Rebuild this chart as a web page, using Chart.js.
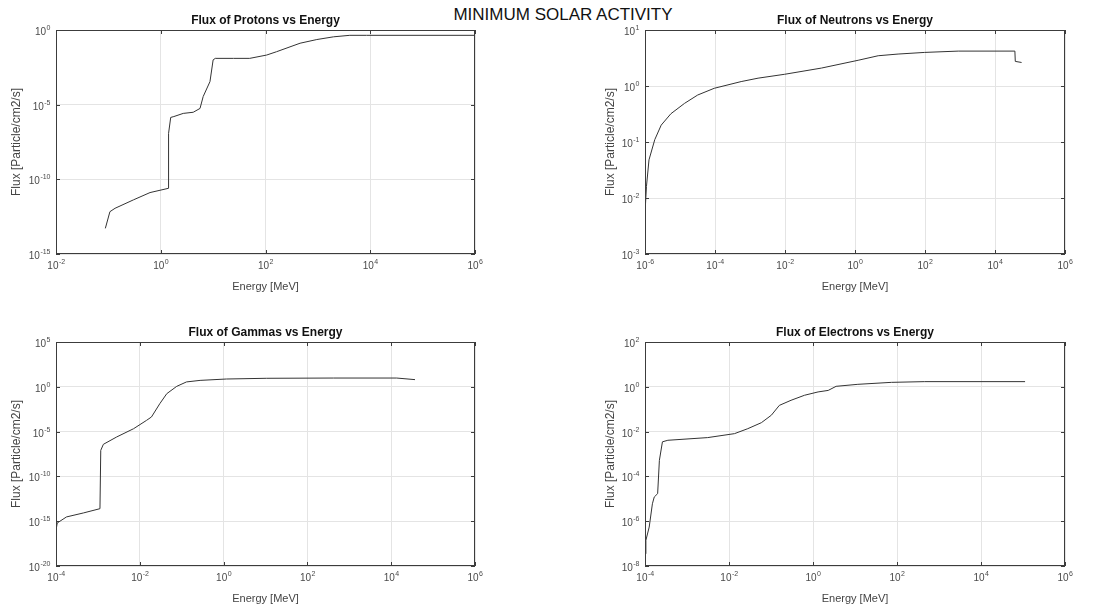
<!DOCTYPE html>
<html>
<head>
<meta charset="utf-8">
<script src="https://cdn.jsdelivr.net/npm/chart.js@4.4.1/dist/chart.umd.min.js"></script>
<style>
  body { margin: 0; background: #fff; width: 1118px; height: 611px; position: relative; overflow: hidden;
         font-family: "Liberation Sans", Arial, sans-serif; }
  #mainTitle { position: absolute; left: 0; width: 1126px; top: 5px; text-align: center; font-size: 17px; color: #111; }
  .panel { position: absolute; }
</style>
</head>
<body>
<div id="mainTitle">MINIMUM SOLAR ACTIVITY</div>
<div class="panel" style="left:0;top:0;width:559px;height:300px"><canvas id="protonChart"></canvas></div>
<div class="panel" style="left:559px;top:0;width:559px;height:300px"><canvas id="neutronChart"></canvas></div>
<div class="panel" style="left:0;top:312px;width:559px;height:299px"><canvas id="gammaChart"></canvas></div>
<div class="panel" style="left:559px;top:312px;width:559px;height:299px"><canvas id="electronChart"></canvas></div>
<script>
// energies in MeV, flux in Particle/cm2/s
const protonEnergy = [0.0875, 0.107, 0.134, 0.30, 0.624, 1.40, 1.41, 1.55, 1.78, 2.69, 4.17, 5.62, 6.46, 8.71, 10, 11, 24.5, 50, 105, 162, 457, 955, 2000, 4070, 8510, 1e6];
const protonFlux = [5.2e-14, 6.8e-13, 1.15e-12, 4.2e-12, 1.3e-11, 2.5e-11, 1.2e-7, 1.4e-6, 1.6e-6, 2.6e-6, 3.1e-6, 5.6e-6, 3.5e-5, 3.5e-4, 1e-2, 1.26e-2, 1.26e-2, 1.26e-2, 2.1e-2, 3.5e-2, 0.13, 0.23, 0.35, 0.44, 0.44, 0.44];

const neutronEnergy = [1e-6, 1.1e-6, 1.3e-6, 1.9e-6, 2.9e-6, 5.5e-6, 1.35e-5, 3.2e-5, 9.5e-5, 5.6e-4, 1.7e-3, 9.8e-3, 0.11, 1.23, 4.6, 17, 98, 890, 3.7e4, 3.8e4, 5.75e4];
const neutronFlux = [5.4e-3, 1.6e-2, 4.8e-2, 0.11, 0.20, 0.32, 0.49, 0.69, 0.91, 1.2, 1.38, 1.62, 2.09, 2.88, 3.47, 3.72, 3.98, 4.2, 4.2, 2.75, 2.63];

const gammaEnergy = [1e-4, 1.07e-4, 1.78e-4, 4.5e-4, 1.12e-3, 1.17e-3, 1.35e-3, 2.8e-3, 7.1e-3, 1.45e-2, 1.9e-2, 3.0e-2, 4.4e-2, 7.6e-2, 0.13, 0.275, 1.17, 10.7, 417, 1.35e4, 3.7e4];
const gammaFlux = [9.5e-17, 6.3e-16, 3e-15, 8.3e-15, 2.5e-14, 8.1e-8, 3.8e-7, 2.5e-6, 2.1e-5, 1.8e-4, 4.3e-4, 1.3e-2, 0.17, 1.12, 3.5, 5.2, 7.4, 8.9, 9.5, 9.5, 6.3];

const electronEnergy = [1e-4, 1.05e-4, 1.26e-4, 1.5e-4, 1.66e-4, 2.0e-4, 2.2e-4, 2.6e-4, 3.5e-4, 3.1e-3, 1.35e-2, 2.8e-2, 5.9e-2, 0.102, 0.158, 0.30, 0.63, 1.32, 2.3, 3.55, 11.7, 74, 457, 1.12e5];
const electronFlux = [3.5e-8, 1.4e-7, 5.5e-7, 6e-6, 1.2e-5, 1.7e-5, 5.2e-4, 3.5e-3, 4.1e-3, 5.4e-3, 8.1e-3, 1.35e-2, 2.5e-2, 5.4e-2, 0.148, 0.25, 0.42, 0.59, 0.69, 1.05, 1.29, 1.58, 1.7, 1.7];

// tick values
const protonXTicks = [1e-2, 1e0, 1e2, 1e4, 1e6];
const protonYTicks = [1e-15, 1e-10, 1e-5, 1e0];
const neutronXTicks = [1e-6, 1e-4, 1e-2, 1e0, 1e2, 1e4, 1e6];
const neutronYTicks = [1e-3, 1e-2, 1e-1, 1e0, 1e1];
const gammaXTicks = [1e-4, 1e-2, 1e0, 1e2, 1e4, 1e6];
const gammaYTicks = [1e-20, 1e-15, 1e-10, 1e-5, 1e0, 1e5];
const electronXTicks = [1e-4, 1e-2, 1e0, 1e2, 1e4, 1e6];
const electronYTicks = [1e-8, 1e-6, 1e-4, 1e-2, 1e0, 1e2];

const FONT = '"Liberation Sans", Arial, sans-serif';

// "10" with a raised exponent, like the matlab tick labels
function drawPow(ctx, v, x, y, align) {
  const e = String(Math.round(Math.log10(v)));
  ctx.font = '10px ' + FONT;
  const w1 = ctx.measureText('10').width;
  ctx.font = '7px ' + FONT;
  const w2 = ctx.measureText(e).width;
  const sx = align === 'center' ? x - (w1 + w2) / 2 : x - (w1 + w2);
  ctx.font = '10px ' + FONT;
  ctx.fillText('10', sx, y);
  ctx.font = '7px ' + FONT;
  ctx.fillText(e, sx + w1 + 0.5, y - 5);
}

// box round the plot, inward tick marks, tick labels and the panel title
const frame = {
  id: 'frame',
  afterDraw(chart, args, opts) {
    const { ctx, chartArea: a, scales } = chart;
    ctx.save();
    ctx.strokeStyle = '#3c3c3c';
    ctx.lineWidth = 1;
    ctx.strokeRect(Math.round(a.left) + 0.5, Math.round(a.top) + 0.5, Math.round(a.width) - 1, Math.round(a.height) - 1);
    ctx.beginPath();
    scales.x.ticks.forEach(t => {
      const p = Math.round(scales.x.getPixelForValue(t.value)) + 0.5;
      ctx.moveTo(p, a.bottom); ctx.lineTo(p, a.bottom - 4);
      ctx.moveTo(p, a.top); ctx.lineTo(p, a.top + 4);
    });
    scales.y.ticks.forEach(t => {
      const p = Math.round(scales.y.getPixelForValue(t.value)) + 0.5;
      ctx.moveTo(a.left, p); ctx.lineTo(a.left + 4, p);
      ctx.moveTo(a.right, p); ctx.lineTo(a.right - 4, p);
    });
    ctx.stroke();

    ctx.fillStyle = '#4a4a4a';
    ctx.textAlign = 'left';
    ctx.textBaseline = 'alphabetic';
    scales.x.ticks.forEach(t => drawPow(ctx, t.value, scales.x.getPixelForValue(t.value), a.bottom + 15, 'center'));
    scales.y.ticks.forEach(t => drawPow(ctx, t.value, a.left - 6, scales.y.getPixelForValue(t.value) + 5, 'right'));

    ctx.fillStyle = '#111';
    ctx.font = 'bold 12px ' + FONT;
    ctx.textAlign = 'center';
    ctx.textBaseline = 'middle';
    ctx.fillText(opts.text, (a.left + a.right) / 2, a.top - 9);
    ctx.restore();
  }
};

function makePanel(id, title, energy, flux, xTicks, yTicks, yW, padRight, yTitleX, xH) {
  const axisX = {
    type: 'logarithmic',
    min: xTicks[0], max: xTicks[xTicks.length - 1],
    afterBuildTicks: s => { s.ticks = xTicks.map(v => ({ value: v })); },
    afterFit: s => { s.height = xH; },
    grid: { color: '#e4e4e4', drawTicks: false },
    border: { display: false },
    ticks: { display: false },
    title: { display: true, text: 'Energy [MeV]', color: '#444', font: { family: FONT, size: 11 },
             padding: { top: 0, bottom: xH - 33 - 6.6 } }
  };
  const axisY = {
    type: 'logarithmic',
    min: yTicks[0], max: yTicks[yTicks.length - 1],
    afterBuildTicks: s => { s.ticks = yTicks.map(v => ({ value: v })); },
    afterFit: s => { s.width = yW; },
    grid: { color: '#e4e4e4', drawTicks: false },
    border: { display: false },
    ticks: { display: false },
    title: { display: true, text: 'Flux [Particle/cm2/s]', color: '#444', font: { family: FONT, size: 12 },
             padding: { top: yTitleX - 7.2, bottom: 0 } }
  };
  new Chart(document.getElementById(id), {
    type: 'line',
    data: {
      datasets: [{
        data: energy.map((e, i) => ({ x: e, y: flux[i] })),
        borderColor: '#333',
        borderWidth: 1,
        pointRadius: 0,
        tension: 0,
        fill: false
      }]
    },
    options: {
      responsive: true,
      maintainAspectRatio: false,
      animation: false,
      layout: { padding: { top: 30, right: padRight, left: 0, bottom: 0 } },
      plugins: { legend: { display: false }, tooltip: { enabled: false }, frame: { text: title } },
      scales: { x: axisX, y: axisY }
    },
    plugins: [frame]
  });
}

makePanel('protonChart', 'Flux of Protons vs Energy', protonEnergy, protonFlux, protonXTicks, protonYTicks, 56, 84, 16.7, 46);
makePanel('neutronChart', 'Flux of Neutrons vs Energy', neutronEnergy, neutronFlux, neutronXTicks, neutronYTicks, 86, 53, 52, 46);
makePanel('gammaChart', 'Flux of Gammas vs Energy', gammaEnergy, gammaFlux, gammaXTicks, gammaYTicks, 56, 84, 16.7, 45);
makePanel('electronChart', 'Flux of Electrons vs Energy', electronEnergy, electronFlux, electronXTicks, electronYTicks, 86, 53, 52, 45);
</script>
</body>
</html>
